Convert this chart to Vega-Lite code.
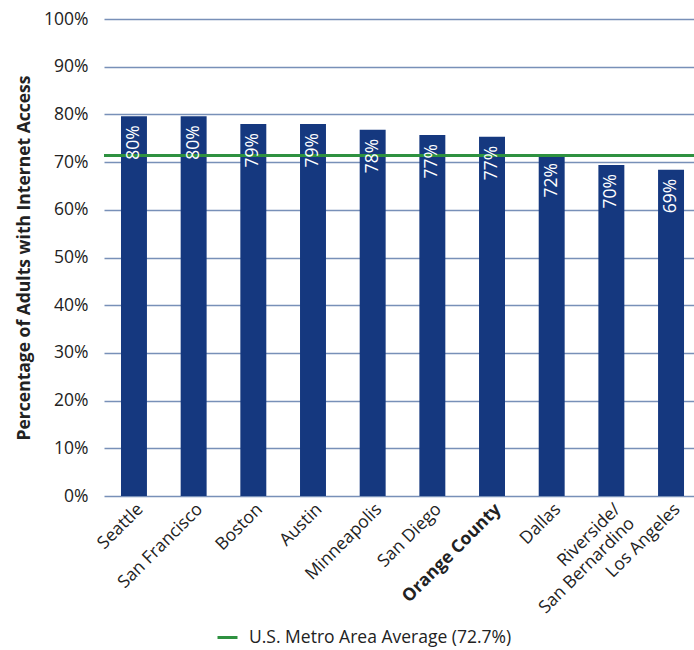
{
  "$schema": "https://vega.github.io/schema/vega-lite/v6.json",
  "autosize": "none",
  "width": 590,
  "height": 477,
  "padding": {"left": 104, "top": 19, "right": 0, "bottom": 154},
  "background": "white",
  "config": {"view": {"stroke": null}, "font": "Open Sans"},
  "datasets": {
    "bars": [
      {"city": "Seattle", "pct": 79.6, "label": "80%"},
      {"city": "San Francisco", "pct": 79.6, "label": "80%"},
      {"city": "Boston", "pct": 78.0, "label": "79%"},
      {"city": "Austin", "pct": 78.0, "label": "79%"},
      {"city": "Minneapolis", "pct": 76.8, "label": "78%"},
      {"city": "San Diego", "pct": 75.7, "label": "77%"},
      {"city": "Orange County", "pct": 75.3, "label": "77%"},
      {"city": "Dallas", "pct": 71.7, "label": "72%"},
      {"city": "Riverside/San Bernardino", "pct": 69.4, "label": "70%"},
      {"city": "Los Angeles", "pct": 68.4, "label": "69%"}
    ],
    "avg": [
      {"series": "U.S. Metro Area Average (72.7%)", "value": 71.4}
    ]
  },
  "layer": [
    {
      "data": {"name": "bars"},
      "mark": {"type": "bar", "color": "#15387f"},
      "encoding": {
        "x": {
          "field": "city", "type": "nominal", "sort": null,
          "scale": {"paddingInner": 0.565, "paddingOuter": 0.226, "align": 0.63},
          "axis": {
            "title": null,
            "domain": false,
            "ticks": false,
            "labelAngle": -45,
            "labelAlign": "right",
            "labelBaseline": "top",
            "labelPadding": 4,
            "labelFontSize": 17.5,
            "labelColor": "#222222",
            "labelLimit": 250,
            "labelLineHeight": 20,
            "labelFontWeight": {"condition": {"test": "datum.value == 'Orange County'", "value": "bold"}, "value": "normal"},
            "labelExpr": "datum.value == 'Riverside/San Bernardino' ? ['Riverside/', 'San Bernardino'] : datum.label"
          }
        },
        "y": {
          "field": "pct", "type": "quantitative",
          "scale": {"domain": [0, 100], "nice": false},
          "axis": {
            "title": "Percentage of Adults with Internet Access",
            "titleFontSize": 17.5,
            "titleFontWeight": "bold",
            "titleColor": "#222222",
            "titlePadding": 10,
            "values": [0, 10, 20, 30, 40, 50, 60, 70, 80, 90, 100],
            "labelExpr": "datum.value + '%'",
            "labelFontSize": 17.5,
            "labelColor": "#222222",
            "labelPadding": 16,
            "ticks": false,
            "domain": false,
            "grid": true,
            "gridColor": "#7890b8",
            "gridWidth": 1.5
          }
        }
      }
    },
    {
      "data": {"name": "avg"},
      "mark": {"type": "rule", "strokeWidth": 3},
      "encoding": {
        "y": {"field": "value", "type": "quantitative"},
        "color": {
          "field": "series", "type": "nominal",
          "scale": {"range": ["#2e9140"]},
          "legend": {
            "title": null,
            "orient": "none",
            "legendX": 112,
            "legendY": 607,
            "symbolType": "stroke",
            "symbolStrokeWidth": 3,
            "symbolSize": 400,
            "labelFontSize": 17.5,
            "labelColor": "#222222",
            "labelOffset": 10,
            "labelLimit": 400
          }
        }
      }
    },
    {
      "data": {"name": "bars"},
      "mark": {"type": "text", "angle": 270, "align": "right", "baseline": "middle", "dx": -9, "color": "white", "fontSize": 17.5},
      "encoding": {
        "x": {"field": "city", "type": "nominal", "sort": null},
        "y": {"field": "pct", "type": "quantitative"},
        "text": {"field": "label"}
      }
    }
  ]
}
